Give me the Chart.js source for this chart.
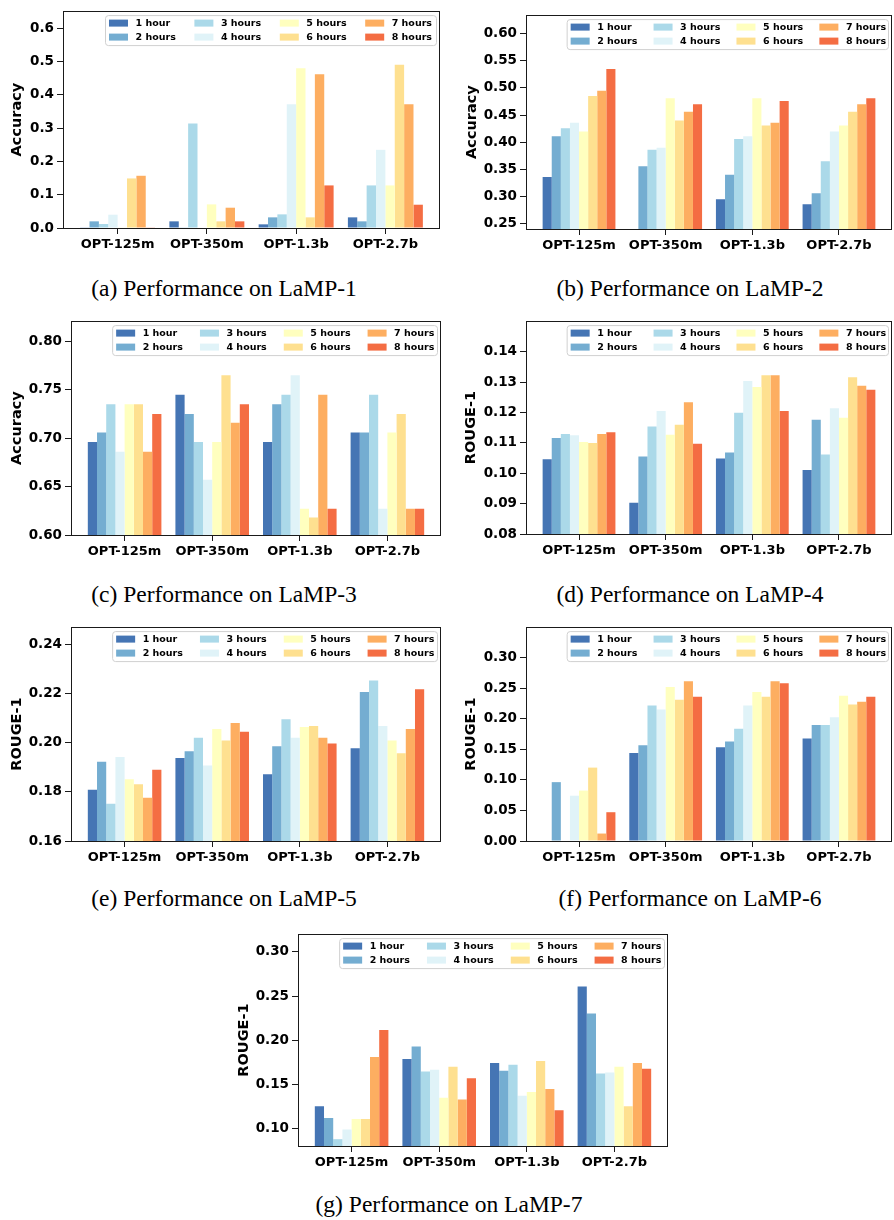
<!DOCTYPE html>
<html>
<head>
<meta charset="utf-8">
<script src="https://cdn.jsdelivr.net/npm/chart.js@4.4.1/dist/chart.umd.min.js"></script>
<style>
  html, body { margin: 0; padding: 0; background: #fff; }
  body { width: 894px; height: 1220px; position: relative; overflow: hidden; }
  canvas { position: absolute; }
  .caption {
    position: absolute;
    font-family: 'Liberation Serif', 'Times New Roman', serif;
    font-size: 23.5px;
    line-height: 1;
    white-space: nowrap;
    transform: translateX(-50%);
    color: #000;
  }
</style>
</head>
<body>
<script>
const models = ['OPT-125m', 'OPT-350m', 'OPT-1.3b', 'OPT-2.7b'];
const hours = ['1 hour', '2 hours', '3 hours', '4 hours', '5 hours', '6 hours', '7 hours', '8 hours'];
const hourColors = ['#4575b4', '#74add1', '#abd9e9', '#e0f3f8', '#ffffbf', '#fee090', '#fdae61', '#f46d43'];

// one row per hour budget, one value per model
const lamp1 = [
    [0.002, 0.020, 0.011, 0.032],
    [0.020, 0.002, 0.032, 0.020],
    [0.012, 0.314, 0.041, 0.128],
    [0.040, 0.000, 0.372, 0.235],
    [0.002, 0.071, 0.480, 0.128],
    [0.149, 0.020, 0.032, 0.491],
    [0.157, 0.061, 0.462, 0.372],
    [0.002, 0.020, 0.128, 0.070]
];
const lamp2 = [
    [0.336, 0.230, 0.295, 0.286],
    [0.411, 0.356, 0.340, 0.306],
    [0.426, 0.386, 0.406, 0.365],
    [0.436, 0.390, 0.411, 0.420],
    [0.420, 0.481, 0.481, 0.431],
    [0.485, 0.440, 0.431, 0.456],
    [0.495, 0.456, 0.436, 0.470],
    [0.535, 0.470, 0.476, 0.481]
];
const lamp3 = [
    [0.696, 0.745, 0.696, 0.706],
    [0.706, 0.725, 0.735, 0.706],
    [0.735, 0.696, 0.745, 0.745],
    [0.686, 0.657, 0.765, 0.627],
    [0.735, 0.696, 0.627, 0.706],
    [0.735, 0.765, 0.618, 0.725],
    [0.686, 0.716, 0.745, 0.627],
    [0.725, 0.735, 0.627, 0.627]
];
const lamp4 = [
    [0.1046, 0.0903, 0.1049, 0.1011],
    [0.1116, 0.1055, 0.1068, 0.1176],
    [0.1129, 0.1154, 0.1199, 0.1062],
    [0.1125, 0.1205, 0.1304, 0.1214],
    [0.1103, 0.1127, 0.1284, 0.1183],
    [0.1100, 0.1160, 0.1323, 0.1316],
    [0.1129, 0.1234, 0.1323, 0.1288],
    [0.1135, 0.1097, 0.1205, 0.1275]
];
const lamp5 = [
    [0.1808, 0.1938, 0.1871, 0.1977],
    [0.1922, 0.1965, 0.1985, 0.2206],
    [0.1752, 0.2020, 0.2095, 0.2253],
    [0.1942, 0.1907, 0.2020, 0.2068],
    [0.1851, 0.2056, 0.2064, 0.2009],
    [0.1831, 0.2009, 0.2068, 0.1957],
    [0.1776, 0.2080, 0.2020, 0.2056],
    [0.1890, 0.2044, 0.1997, 0.2217]
];
const lamp6 = [
    [0.0000, 0.1439, 0.1534, 0.1677],
    [0.0963, 0.1566, 0.1630, 0.1899],
    [0.0000, 0.2217, 0.1836, 0.1899],
    [0.0741, 0.2153, 0.2217, 0.2026],
    [0.0825, 0.2519, 0.2439, 0.2376],
    [0.1201, 0.2312, 0.2360, 0.2233],
    [0.0122, 0.2614, 0.2614, 0.2280],
    [0.0471, 0.2360, 0.2582, 0.2360]
];
const lamp7 = [
    [0.1255, 0.1789, 0.1745, 0.2607],
    [0.1124, 0.1931, 0.1658, 0.2302],
    [0.0884, 0.1647, 0.1724, 0.1625],
    [0.0993, 0.1669, 0.1375, 0.1636],
    [0.1113, 0.1353, 0.1418, 0.1702],
    [0.1113, 0.1702, 0.1767, 0.1255],
    [0.1811, 0.1331, 0.1451, 0.1745],
    [0.2116, 0.1571, 0.1211, 0.1680]
];

// y tick values per panel
const ticks1 = [0.0, 0.1, 0.2, 0.3, 0.4, 0.5, 0.6];
const ticks2 = [0.25, 0.30, 0.35, 0.40, 0.45, 0.50, 0.55, 0.60];
const ticks3 = [0.60, 0.65, 0.70, 0.75, 0.80];
const ticks4 = [0.08, 0.09, 0.10, 0.11, 0.12, 0.13, 0.14];
const ticks5 = [0.16, 0.18, 0.20, 0.22, 0.24];
const ticks6 = [0.00, 0.05, 0.10, 0.15, 0.20, 0.25, 0.30];
const ticks7 = [0.10, 0.15, 0.20, 0.25, 0.30];

// box = plot area [left, top, right, bottom] on the page
const panels = [
    { caption: '(a) Performance on LaMP-1', values: lamp1, yTitle: 'Accuracy', ticks: ticks1, dec: 1, yMin: 0, yMax: 0.652, box: [63, 4, 440, 228], titleGap: 46, capX: 224, capTop: 277 },
    { caption: '(b) Performance on LaMP-2', values: lamp2, yTitle: 'Accuracy', ticks: ticks2, dec: 2, yMin: 0.2404, yMax: 0.634, box: [526, 8, 892, 229], titleGap: 54, capX: 690, capTop: 277 },
    { caption: '(c) Performance on LaMP-3', values: lamp3, yTitle: 'Accuracy', ticks: ticks3, dec: 2, yMin: 0.60, yMax: 0.821, box: [71, 314, 441, 535], titleGap: 54, capX: 224, capTop: 583 },
    { caption: '(d) Performance on LaMP-4', values: lamp4, yTitle: 'ROUGE-1', ticks: ticks4, dec: 2, yMin: 0.08, yMax: 0.1501, box: [526, 314, 892, 534], titleGap: 55, capX: 690, capTop: 583 },
    { caption: '(e) Performance on LaMP-5', values: lamp5, yTitle: 'ROUGE-1', ticks: ticks5, dec: 2, yMin: 0.16, yMax: 0.247, box: [71, 620, 441, 841], titleGap: 54, capX: 224, capTop: 887 },
    { caption: '(f) Performance on LaMP-6', values: lamp6, yTitle: 'ROUGE-1', ticks: ticks6, dec: 2, yMin: 0, yMax: 0.350, box: [526, 620, 892, 841], titleGap: 55, capX: 690, capTop: 887 },
    { caption: '(g) Performance on LaMP-7', values: lamp7, yTitle: 'ROUGE-1', ticks: ticks7, dec: 2, yMin: 0.0807, yMax: 0.32, box: [298, 927, 668, 1146], titleGap: 54, capX: 449, capTop: 1193 }
];

const Y_AXIS_W = 70;
const X_AXIS_H = 32;
const fontFam = '"DejaVu Sans", sans-serif';

// matplotlib-like frame and in-axes legend (4 columns, filled column by column)
const frameAndLegend = {
    id: 'frameAndLegend',
    afterDatasetsDraw(chart) {
        const { ctx, chartArea: { left, top, right, bottom } } = chart;
        ctx.save();
        ctx.strokeStyle = '#1a1a1a';
        ctx.lineWidth = 1;
        ctx.strokeRect(Math.round(left) + 0.5, Math.round(top) + 0.5, Math.round(right - left) - 1, Math.round(bottom - top));

        const w = (right - left) * 0.878, h = 30;
        const x0 = right - 4 - w, y0 = top + 4;
        ctx.beginPath();
        ctx.roundRect(x0 + 0.5, y0 + 0.5, w, h, 3);
        ctx.fillStyle = 'rgba(255,255,255,0.8)';
        ctx.fill();
        ctx.strokeStyle = '#d0d0d0';
        ctx.stroke();

        ctx.font = 'bold 9.5px ' + fontFam;
        ctx.textBaseline = 'middle';
        const colW = w * 0.258;
        chart.data.datasets.forEach((ds, i) => {
            const col = Math.floor(i / 2), row = i % 2;
            const sx = x0 + 4 + col * colW, sy = y0 + 8 + row * 14;
            ctx.fillStyle = ds.backgroundColor;
            ctx.fillRect(sx, sy - 3.5, 19, 7);
            ctx.fillStyle = '#000';
            ctx.fillText(ds.label, sx + 26.5, sy + 0.5);
        });
        ctx.restore();
    }
};

function crearPanel(p) {
    const [L, T, R, B] = p.box;
    const canvas = document.createElement('canvas');
    const cl = L - Y_AXIS_W, ct = T - 4;
    const cw = R + 2 - cl, ch = B + X_AXIS_H - ct;
    canvas.width = cw;
    canvas.height = ch;
    canvas.style.left = cl + 'px';
    canvas.style.top = ct + 'px';
    document.body.appendChild(canvas);

    new Chart(canvas, {
        type: 'bar',
        data: {
            datasets: p.values.map((row, i) => ({
                label: hours[i],
                data: row.map((v, j) => ({ x: j, y: v })),
                backgroundColor: hourColors[i],
                borderWidth: 0,
                barPercentage: 1,
                categoryPercentage: 0.84
            }))
        },
        options: {
            responsive: false,
            animation: false,
            events: [],
            layout: { padding: { left: 0, top: 4, right: 2, bottom: 0 } },
            plugins: { legend: { display: false }, tooltip: { enabled: false } },
            scales: {
                x: {
                    type: 'linear',
                    min: -0.612,
                    max: 3.612,
                    offset: false,
                    afterBuildTicks: s => { s.ticks = models.map((_, i) => ({ value: i })); },
                    afterFit: s => { s.height = X_AXIS_H; },
                    ticks: {
                        callback: v => models[v],
                        autoSkip: false,
                        maxRotation: 0,
                        padding: 3,
                        color: '#000',
                        font: { family: fontFam, weight: 'bold', size: 13 }
                    },
                    grid: { offset: false, drawOnChartArea: false, tickLength: 6, color: '#1a1a1a' },
                    border: { display: false }
                },
                y: {
                    min: p.yMin,
                    max: p.yMax,
                    afterBuildTicks: s => { s.ticks = p.ticks.map(v => ({ value: v })); },
                    afterFit: s => { s.width = Y_AXIS_W; },
                    ticks: {
                        callback: v => v.toFixed(p.dec),
                        padding: 3,
                        color: '#000',
                        font: { family: fontFam, weight: 'bold', size: 13.5 }
                    },
                    grid: { drawOnChartArea: false, tickLength: 6, color: '#1a1a1a' },
                    border: { display: false },
                    title: {
                        display: true,
                        text: p.yTitle,
                        color: '#000',
                        font: { family: fontFam, weight: 'bold', size: 14.5 },
                        padding: { top: Y_AXIS_W - p.titleGap - 8.7, bottom: 0 }
                    }
                }
            }
        },
        plugins: [frameAndLegend]
    });

    const cap = document.createElement('div');
    cap.className = 'caption';
    cap.textContent = p.caption;
    cap.style.left = p.capX + 'px';
    cap.style.top = p.capTop + 'px';
    document.body.appendChild(cap);
}

panels.forEach(crearPanel);
</script>
</body>
</html>
